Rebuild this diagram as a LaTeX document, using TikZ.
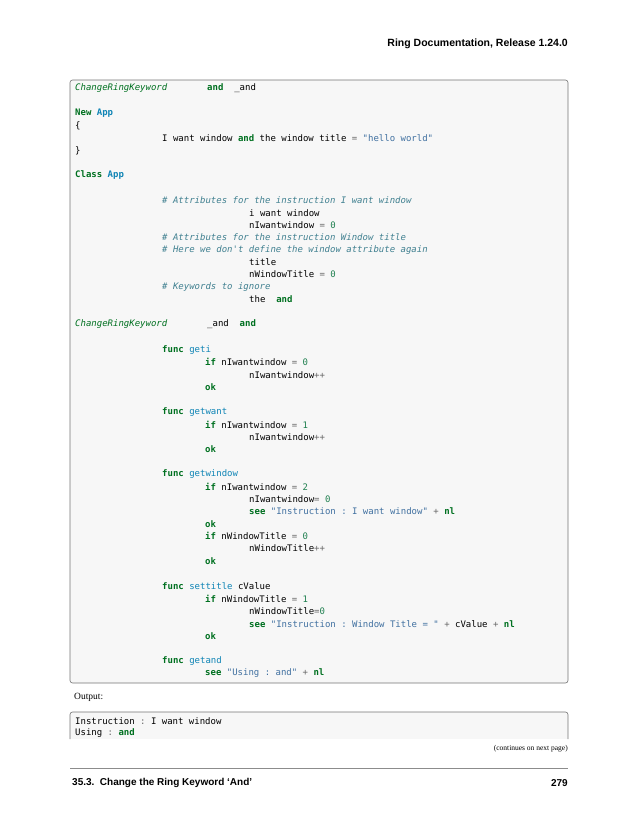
\documentclass[tikz,border=0pt]{standalone}
\usepackage{fontspec}
\setmainfont{Liberation Serif}
\setmonofont{DejaVu Sans Mono}
\newfontfamily\hsans{Liberation Sans}
\definecolor{kw}{HTML}{007020}
\definecolor{nm}{HTML}{0E84B5}
\definecolor{cm}{HTML}{408090}
\definecolor{st}{HTML}{4070A0}
\definecolor{nu}{HTML}{208050}
\definecolor{op}{HTML}{666666}
\newcommand\K[1]{\textcolor{kw}{\bfseries #1}}
\newcommand\N[1]{\textcolor{nm}{\bfseries #1}}
\newcommand\C[1]{\textcolor{cm}{\itshape #1}}
\newcommand\Sg[1]{\textcolor{st}{#1}}
\newcommand\Nu[1]{\textcolor{nu}{#1}}
\newcommand\Op[1]{\textcolor{op}{#1}}
\newcounter{ln}
\newcommand\cl[3]{\stepcounter{ln}\node[code] (L\arabic{ln}) at (#1,#2) {#3};}
\begin{document}
\begin{tikzpicture}[x=1pt,y=-1pt,
  code/.style={anchor=west,inner sep=0pt,font=\ttfamily\fontsize{9}{10}\selectfont},
  box/.style={draw=black!55,fill=black!3,rounded corners=2.5pt,line width=0.6pt}]
\useasboundingbox (0,0) rectangle (638,825);
\node[anchor=east,inner sep=0pt,font=\hsans\bfseries\fontsize{10.5}{12}\selectfont] (hdr) at (568,44) {Ring Documentation, Release 1.24.0};
\path[box] (70,80) rectangle (568,683);
\def\a{75}\def\b{162}\def\c{205}\def\d{249}
\cl{\a}{88}{\textcolor{kw}{\itshape ChangeRingKeyword}}
\node[code] (L1b) at (207,88) {\K{and}\ \ \_and};
\cl{\a}{113}{\K{New} \N{App}}
\cl{\a}{125.5}{\{}
\cl{\b}{138}{I want window \K{and} the window title \Op{=} \Sg{"hello world"}}
\cl{\a}{150.5}{\}}
\cl{\a}{175.5}{\K{Class} \N{App}}
\cl{\b}{200.5}{\C{\# Attributes for the instruction I want window}}
\cl{\d}{213}{i want window}
\cl{\d}{225}{nIwantwindow \Op{=} \Nu{0}}
\cl{\b}{237.5}{\C{\# Attributes for the instruction Window title}}
\cl{\b}{250}{\C{\# Here we don't define the window attribute again}}
\cl{\d}{262}{title}
\cl{\d}{274.5}{nWindowTitle \Op{=} \Nu{0}}
\cl{\b}{287}{\C{\# Keywords to ignore}}
\cl{\d}{299.5}{the\ \ \K{and}}
\cl{\a}{324.5}{\textcolor{kw}{\itshape ChangeRingKeyword}}
\node[code] (L2b) at (207,324.5) {\_and\ \ \K{and}};
\cl{\b}{350}{\K{func} \textcolor{nm}{geti}}
\cl{\c}{362.3}{\K{if} nIwantwindow \Op{=} \Nu{0}}
\cl{\d}{374.7}{nIwantwindow\Op{++}}
\cl{\c}{387.1}{\K{ok}}
\cl{\b}{412}{\K{func} \textcolor{nm}{getwant}}
\cl{\c}{424.5}{\K{if} nIwantwindow \Op{=} \Nu{1}}
\cl{\d}{437}{nIwantwindow\Op{++}}
\cl{\c}{449.2}{\K{ok}}
\cl{\b}{474}{\K{func} \textcolor{nm}{getwindow}}
\cl{\c}{486.6}{\K{if} nIwantwindow \Op{=} \Nu{2}}
\cl{\d}{499}{nIwantwindow\Op{=} \Nu{0}}
\cl{\d}{511.4}{\K{see} \Sg{"Instruction : I want window"} \Op{+} \K{nl}}
\cl{\c}{523.8}{\K{ok}}
\cl{\c}{536.2}{\K{if} nWindowTitle \Op{=} \Nu{0}}
\cl{\d}{548.6}{nWindowTitle\Op{++}}
\cl{\c}{561}{\K{ok}}
\cl{\b}{586.5}{\K{func} \textcolor{nm}{settitle} cValue}
\cl{\c}{599}{\K{if} nWindowTitle \Op{=} \Nu{1}}
\cl{\d}{611.4}{nWindowTitle\Op{=}\Nu{0}}
\cl{\d}{623.8}{\K{see} \Sg{"Instruction : Window Title = "} \Op{+} cValue \Op{+} \K{nl}}
\cl{\c}{636.2}{\K{ok}}
\cl{\b}{661}{\K{func} \textcolor{nm}{getand}}
\cl{\c}{673.4}{\K{see} \Sg{"Using : and"} \Op{+} \K{nl}}
% output
\node[anchor=west,inner sep=0pt,font=\fontsize{9.5}{11}\selectfont] (out) at (74,697) {Output:};
\path[fill=black!3] (70,712) rectangle (568,739);
\draw[draw=black!55,line width=0.6pt,rounded corners=2.5pt] (70,739) -- (70,712) -- (568,712) -- (568,739);
\cl{\a}{721}{Instruction \Op{:} I want window}
\cl{\a}{733.4}{Using \Op{:} \K{and}}
\node[anchor=east,inner sep=0pt,font=\fontsize{7.5}{9}\selectfont] (cont) at (568,749) {(continues on next page)};
\draw[black!45,line width=0.5pt] (70,768) coordinate (r1) -- (568,768) coordinate (r2);
\node[anchor=west,inner sep=0pt,font=\hsans\bfseries\fontsize{10}{12}\selectfont] (ftl) at (72,783) {35.3.\ \ Change the Ring Keyword ‘And’};
\node[anchor=east,inner sep=0pt,font=\hsans\bfseries\fontsize{10}{12}\selectfont] (ftr) at (568,783) {279};
\end{tikzpicture}
\end{document}
